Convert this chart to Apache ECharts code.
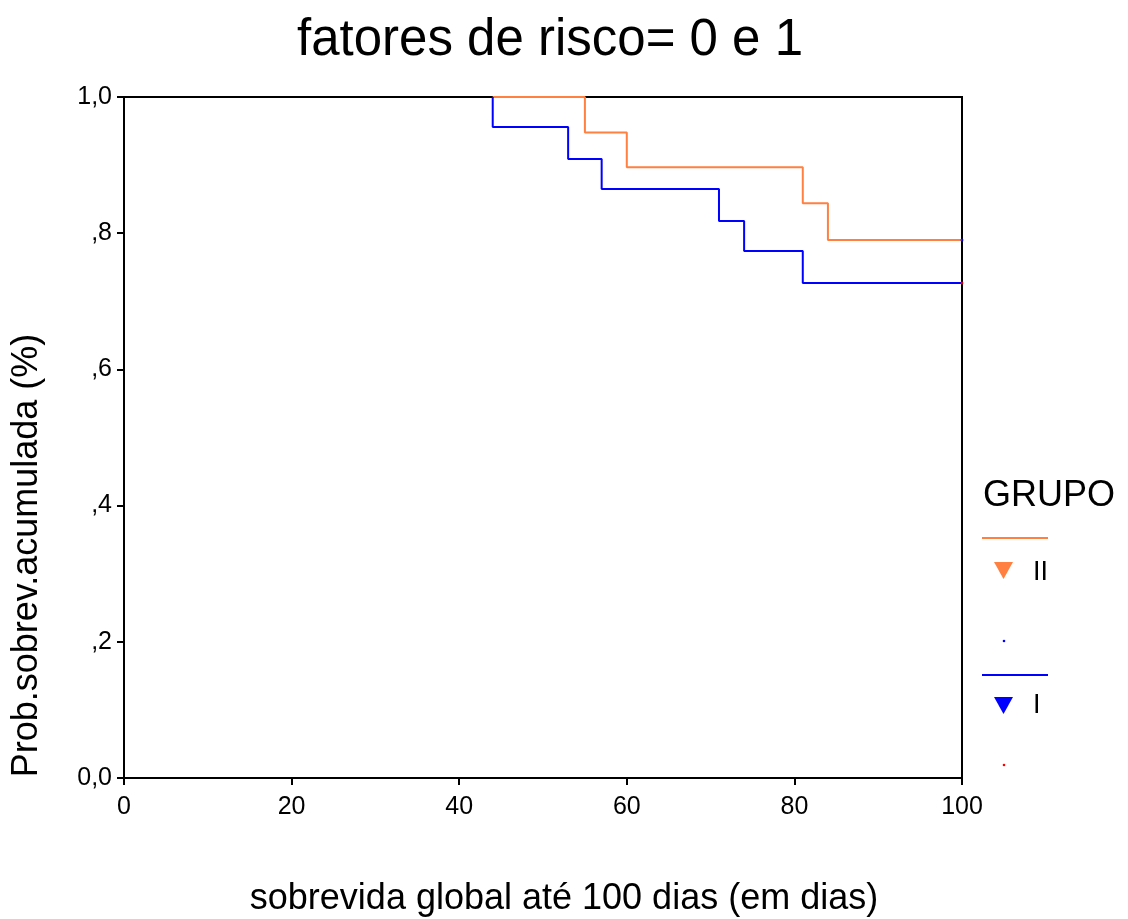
<!DOCTYPE html>
<html>
<head>
<meta charset="utf-8">
<script src="https://cdn.jsdelivr.net/npm/echarts@6/dist/echarts.min.js"></script>
<style>
  html, body { margin: 0; padding: 0; background: #fff; }
  #chart { width: 1128px; height: 919px; }
</style>
</head>
<body>
<div id="chart"></div>
<script>
let myChart = echarts.init(document.getElementById('chart'));

// tempos (dias) e probabilidade acumulada
const timesII = [44, 55, 60, 81, 84, 100];
const survII = [1.0, 0.948, 0.897, 0.844, 0.790, 0.790];
const timesI = [44, 44, 53, 57, 71, 74, 81, 100];
const survI = [1.0, 0.956, 0.909, 0.865, 0.818, 0.774, 0.727, 0.727];
// censurados no fim do seguimento
const censII = [[100, 0.790]];
const censI = [[100, 0.727]];
const xTicks = [0, 20, 40, 60, 80, 100];

const orange = '#ff8040';
const blue = '#0000ff';
const font = 'Liberation Sans, Arial, sans-serif';

function pairs(xs, ys) {
  return xs.map((x, i) => [x, ys[i]]);
}

option = {
  animation: false,
  backgroundColor: '#fff',
  title: {
    text: 'fatores de risco= 0 e 1',
    left: 545,
    top: 10,
    textAlign: 'center',
    textStyle: { fontFamily: font, fontSize: 51, fontWeight: 'normal', color: '#000' }
  },
  grid: {
    left: 124, top: 97, right: 166, bottom: 141,
    outerBoundsMode: 'none',
    containLabel: false,
    show: true, borderColor: '#000', borderWidth: 2
  },
  xAxis: {
    type: 'value',
    min: 0, max: 100, interval: 20,
    name: 'sobrevida global até 100 dias (em dias)',
    nameLocation: 'middle',
    nameGap: 103,
    nameTextStyle: { fontFamily: font, fontSize: 36, color: '#000', padding: [0, 0, 0, 42] },
    axisLine: { show: true, lineStyle: { color: '#000', width: 2 } },
    axisTick: { show: true, length: 7, lineStyle: { color: '#000', width: 2 } },
    axisLabel: {
      fontFamily: font, fontSize: 25, color: '#000', margin: 17,
      formatter: v => xTicks.indexOf(v) != -1 ? String(v) : ''
    },
    splitLine: { show: false }
  },
  yAxis: {
    type: 'value',
    min: 0, max: 1, interval: 0.2,
    name: 'Prob.sobrev.acumulada (%)',
    nameLocation: 'middle',
    nameGap: 79,
    nameTextStyle: { fontFamily: font, fontSize: 36, color: '#000', padding: [0, 236, 0, 0] },
    axisLine: { show: true, lineStyle: { color: '#000', width: 2 } },
    axisTick: { show: true, length: 7, lineStyle: { color: '#000', width: 2 } },
    axisLabel: {
      fontFamily: font, fontSize: 25, color: '#000', margin: 12,
      formatter: function (v) {
        if (v === 0) return '0,0';
        if (v === 1) return '1,0';
        return ',' + Math.round(v * 10);
      }
    },
    splitLine: { show: false }
  },
  series: [
    {
      name: 'II', type: 'line', step: 'end',
      data: pairs(timesII, survII),
      showSymbol: false, symbol: 'none',
      lineStyle: { color: orange, width: 2 },
      z: 3
    },
    {
      name: 'I', type: 'line', step: 'end',
      data: pairs(timesI, survI),
      showSymbol: false, symbol: 'none',
      lineStyle: { color: blue, width: 2 },
      z: 3
    },
    {
      type: 'scatter', data: censII, symbolSize: 3,
      itemStyle: { color: blue }, z: 4
    },
    {
      type: 'scatter', data: censI, symbolSize: 3,
      itemStyle: { color: '#ff0000' }, z: 4
    }
  ],
  graphic: [
    { type: 'text', left: 983, top: 478,
      style: { text: 'GRUPO', fontFamily: font, fontSize: 36, fill: '#000' } },
    { type: 'line', shape: { x1: 982, y1: 538, x2: 1048, y2: 538 },
      style: { stroke: orange, lineWidth: 2 } },
    { type: 'polygon', shape: { points: [[994, 562], [1013, 562], [1003.5, 579]] },
      style: { fill: orange } },
    { type: 'text', left: 1033, top: 559,
      style: { text: 'II', fontFamily: font, fontSize: 27, fill: '#000' } },
    { type: 'circle', shape: { cx: 1004, cy: 641, r: 1.3 }, style: { fill: blue } },
    { type: 'line', shape: { x1: 982, y1: 675, x2: 1048, y2: 675 },
      style: { stroke: blue, lineWidth: 2 } },
    { type: 'polygon', shape: { points: [[994, 697], [1013, 697], [1003.5, 714]] },
      style: { fill: blue } },
    { type: 'text', left: 1033, top: 692,
      style: { text: 'I', fontFamily: font, fontSize: 27, fill: '#000' } },
    { type: 'circle', shape: { cx: 1004, cy: 765, r: 1.3 }, style: { fill: '#ff0000' } }
  ]
};

myChart.setOption(option);
</script>
</body>
</html>
